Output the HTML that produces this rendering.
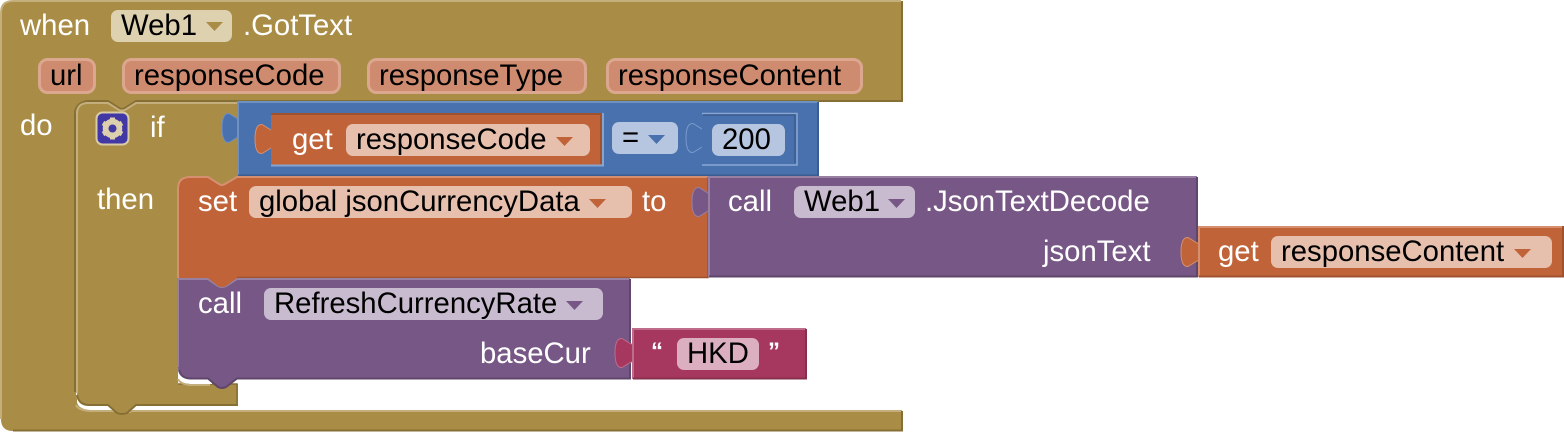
<!DOCTYPE html>
<html>
<head>
<meta charset="utf-8">
<style>
html,body{margin:0;padding:0;background:#fff;width:1564px;height:432px;overflow:hidden}
svg{display:block}
text{font-family:"Liberation Sans",sans-serif;font-size:29.3px}
.w{fill:#fff}
.k{fill:#000}
.q{font-size:24px;font-weight:bold}
</style>
</head>
<body>
<svg width="1564" height="432" viewBox="0 0 1564 432" xmlns="http://www.w3.org/2000/svg">
<defs>
<path id="tab" d="M18,5 H15 L6,-0.500 Q-1,-1 -1,14 Q-1,29 6,28.500 L15,23 H18 Z"/>
</defs>

<!-- outer when block -->
<path d="M13,1 H902 V101 H136 L125,108 Q122,110 119,108 L108,101 H88 Q76,101 76,113 V393 Q76,405 88,405 H108 L117,413 Q122,415 127,413 L136,411 H902 V431 H13 Q1,431 1,419 V13 Q1,1 13,1 Z" fill="#a98c45"/>
<path d="M1,419 V13 Q1,1 13,1 H901" fill="none" stroke="#c4ae7c" stroke-width="2"/>
<path d="M902,1 V101 H136 L125,108 Q122,110 119,108 L108,101 H88 Q77,102 75,112 V392" fill="none" stroke="#866f35" stroke-width="2"/>
<path d="M76,405 Q78,410 90,411 H902" fill="none" stroke="#c4ae7c" stroke-width="2"/>
<path d="M13,430.500 H902 V411" fill="none" stroke="#866f35" stroke-width="2"/>

<!-- white gaps -->
<path d="M77,393 Q77,405 89,405 L108,405 L117,410 H90 Q78,409 77,402 Z" fill="#fff"/>
<rect x="136" y="405" width="102" height="5" fill="#fff"/>

<!-- if block -->
<path d="M88,103 H108 L119,110 Q122,111 125,110 L136,103 H238 V190 H178 V384 H238 V405 H136 L127,413 Q122,415 117,413 L108,405 H89 Q77,405 77,393 V114 Q77,103 88,103 Z" fill="#a98c45"/>
<path d="M77,393 V114 Q77,103 88,103 H108 L119,110 Q122,111 125,110 L136,103 H238" fill="none" stroke="#c4ae7c" stroke-width="2"/>
<path d="M238,405 H136 L127,413 Q122,415 117,413 L108,405 H89 Q79,405 77,395" fill="none" stroke="#866f35" stroke-width="2"/>
<path d="M178,384 H237 V405" fill="none" stroke="#866f35" stroke-width="1.500"/>
<path d="M178,368 V379 Q180,383 190,384 H212 V376 H178 Z" fill="#fff"/>
<path d="M178,379 Q180,384 190,385 H210" fill="none" stroke="#c4ae7c" stroke-width="2"/>

<!-- gear icon -->
<rect x="96.500" y="112.500" width="32" height="32" rx="6" fill="#4238a5" stroke="#d8cba5" stroke-width="2"/>
<g transform="translate(112.500,128.500)" fill="#dcd0ae">
  <circle r="7.500" fill="none" stroke="#dcd0ae" stroke-width="4.500"/>
  <rect x="-2.500" y="-11" width="5" height="22"/>
  <rect x="-2.500" y="-11" width="5" height="22" transform="rotate(60)"/>
  <rect x="-2.500" y="-11" width="5" height="22" transform="rotate(120)"/>
  <circle r="4" fill="#4238a5"/>
</g>

<!-- blue compare -->
<use href="#tab" x="223" y="114" fill="#4971ae" stroke="#6f90c2" stroke-width="1"/>
<rect x="238" y="102" width="580" height="74" fill="#4971ae"/>
<path d="M238,176 V102 H818" fill="none" stroke="#6f90c2" stroke-width="2"/>
<path d="M818,102 V175.500 H238" fill="none" stroke="#3a5c91" stroke-width="2"/>

<!-- get responseCode -->
<use href="#tab" x="256" y="125" fill="#c06338" stroke="#d68f6f" stroke-width="1"/>
<rect x="271" y="113" width="332" height="53" fill="#c06338"/>
<path d="M271,165.500 H603 V113" fill="none" stroke="#86a4d0" stroke-width="2"/>
<path d="M271,114 H601 V164" fill="none" stroke="#9f5230" stroke-width="2"/>

<!-- 200 block -->
<use href="#tab" x="687" y="124" fill="#4971ae" stroke="#7a9acb" stroke-width="1"/>
<rect x="702" y="113" width="96" height="53" fill="#4971ae"/>
<path d="M702,113.500 H797 V165 H702" fill="none" stroke="#8aa7d2" stroke-width="1.500"/>
<path d="M703,115 H795 V163" fill="none" stroke="#3a5c91" stroke-width="1.500"/>

<!-- set block -->
<path d="M190,177 H208 L219,184 Q222,186 225,184 L237,177 H708 V278 H237 L226,286 Q222,288 218,286 L208,278 H178 V189 Q178,177 190,177 Z" fill="#c06338"/>
<path d="M178,278 V189 Q178,177 190,177 H208 L219,184 Q222,186 225,184 L237,177 H708" fill="none" stroke="#d68f6f" stroke-width="2"/>
<path d="M708,177 V277.500 H237" fill="none" stroke="#9f5230" stroke-width="1.500"/>

<!-- call Json purple -->
<use href="#tab" x="693" y="188" fill="#775785" stroke="#9880a3" stroke-width="1"/>
<rect x="708" y="177" width="489" height="100" fill="#775785"/>
<path d="M709,277 V177 H1197" fill="none" stroke="#9880a3" stroke-width="2"/>
<path d="M1197,177 V276.500 H709" fill="none" stroke="#5f466a" stroke-width="2"/>

<!-- get responseContent -->
<use href="#tab" x="1182" y="238" fill="#c06338" stroke="#d68f6f" stroke-width="1"/>
<rect x="1198" y="226" width="365" height="51" fill="#c06338"/>
<path d="M1199,277 V227 H1563" fill="none" stroke="#d68f6f" stroke-width="2"/>
<path d="M1563,226 V276.500 H1199" fill="none" stroke="#9f5230" stroke-width="2"/>

<!-- call refresh -->
<path d="M178,279 H630 V379 H237 L226,387 Q222,389 218,387 L208,379 H190 Q178,379 178,367 Z" fill="#775785"/>
<path d="M178,367 V279 H208 L218,286 Q222,288 226,286 L237,279 H630" fill="none" stroke="#9880a3" stroke-width="2"/>
<path d="M630,279 V378.500 H237 L226,387 Q222,389 218,387 L208,378.500 H190 Q181,378 179,370" fill="none" stroke="#5f466a" stroke-width="2"/>
<path d="M208,278 L218,286 Q222,288 226,286 L237,278 Z" fill="#c06338"/>

<!-- text block -->
<use href="#tab" x="616" y="339" fill="#a6375e" stroke="#bf6b8a" stroke-width="1"/>
<rect x="632" y="328" width="174" height="51" fill="#a6375e"/>
<path d="M633,379 V329 H806" fill="none" stroke="#bf6b8a" stroke-width="2"/>
<path d="M806,329 V378.500 H633" fill="none" stroke="#85304d" stroke-width="2"/>

<!-- pills -->
<rect x="111" y="10" width="121" height="32" rx="7" fill="#ddd1b0"/>
<rect x="39.500" y="59.500" width="55" height="33" rx="8" fill="#cf8b6f" stroke="#dca78f" stroke-width="3"/>
<rect x="123.500" y="59.500" width="216" height="33" rx="8" fill="#cf8b6f" stroke="#dca78f" stroke-width="3"/>
<rect x="368.500" y="59.500" width="217" height="33" rx="8" fill="#cf8b6f" stroke="#dca78f" stroke-width="3"/>
<rect x="607.500" y="59.500" width="254" height="33" rx="8" fill="#cf8b6f" stroke="#dca78f" stroke-width="3"/>
<rect x="346" y="124" width="244" height="32" rx="7" fill="#e6bfad"/>
<rect x="612" y="122" width="66" height="32" rx="7" fill="#b6c6e0"/>
<rect x="712" y="124" width="73" height="32" rx="7" fill="#b6c6e0"/>
<rect x="249" y="186" width="383" height="32" rx="7" fill="#e6bfad"/>
<rect x="794" y="186" width="121" height="32" rx="7" fill="#c8bbd0"/>
<rect x="1271" y="236" width="281" height="32" rx="7" fill="#e6bfad"/>
<rect x="264" y="288" width="339" height="32" rx="7" fill="#c8bbd0"/>
<rect x="677" y="338" width="82" height="32" rx="7" fill="#dbafc0"/>

<!-- dropdown arrows -->
<path d="M206,22 H223 L214.500,31 Z" fill="#a98c45"/>
<path d="M556,137 H573 L564.500,146 Z" fill="#c06338"/>
<path d="M648,135 H665 L656.500,144 Z" fill="#4971ae"/>
<path d="M589,199 H606 L597.500,208 Z" fill="#c06338"/>
<path d="M888,199 H905 L896.500,208 Z" fill="#775785"/>
<path d="M1514,249 H1531 L1522.500,258 Z" fill="#c06338"/>
<path d="M566,301 H583 L574.500,310 Z" fill="#775785"/>

<!-- labels -->
<text x="20" y="35" class="w">when</text>
<text x="121" y="35" class="k">Web1</text>
<text x="243" y="35" class="w">.GotText</text>
<text x="50" y="85" class="k">url</text>
<text x="134" y="85" class="k">responseCode</text>
<text x="379" y="85" class="k">responseType</text>
<text x="618" y="85" class="k">responseContent</text>
<text x="20" y="135" class="w">do</text>
<text x="150" y="137" class="w">if</text>
<text x="97" y="209" class="w">then</text>
<text x="292" y="149" class="w">get</text>
<text x="356" y="149" class="k">responseCode</text>
<text x="622" y="147" class="k">=</text>
<text x="722" y="149" class="k">200</text>
<text x="198" y="211" class="w">set</text>
<text x="259" y="211" class="k">global jsonCurrencyData</text>
<text x="642" y="211" class="w">to</text>
<text x="728" y="211" class="w">call</text>
<text x="804" y="211" class="k">Web1</text>
<text x="925" y="211" class="w">.JsonTextDecode</text>
<text x="1043" y="261" class="w">jsonText</text>
<text x="1218" y="261" class="w">get</text>
<text x="1281" y="261" class="k">responseContent</text>
<text x="198" y="313" class="w">call</text>
<text x="274" y="313" class="k">RefreshCurrencyRate</text>
<text x="480" y="363" class="w">baseCur</text>
<text x="651" y="359" class="w q">“</text>
<text x="687" y="363" class="k">HKD</text>
<text x="768" y="359" class="w q">”</text>
</svg>
</body>
</html>
